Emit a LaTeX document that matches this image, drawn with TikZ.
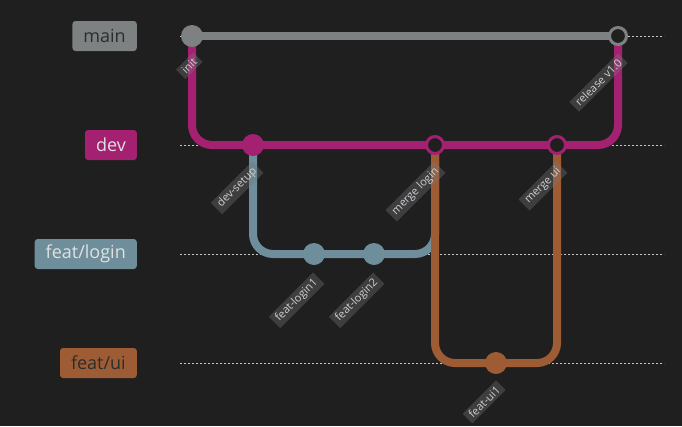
\documentclass[tikz,border=0pt]{standalone}
\usepackage{fontspec}
\setmainfont{Open Sans}
\definecolor{bgc}{RGB}{31,31,31}
\definecolor{mainc}{RGB}{125,129,129}
\definecolor{devc}{RGB}{164,33,114}
\definecolor{loginc}{RGB}{109,142,154}
\definecolor{uic}{RGB}{158,92,52}
\definecolor{lblc}{RGB}{120,120,120}
\definecolor{lbltxt}{RGB}{205,208,212}
\definecolor{lighttxt}{RGB}{225,225,225}
\definecolor{darktxt}{RGB}{45,45,45}
\pgfdeclarelayer{bg}
\pgfdeclarelayer{lanes}
\pgfsetlayers{bg,lanes,main}
\begin{document}
\begin{tikzpicture}[x=1pt,y=-1pt,
	lane/.style={line width=8pt},
	commit/.style={circle,inner sep=0pt,minimum size=22pt},
	mergec/.style={circle,inner sep=0pt,minimum size=17pt,line width=3pt,fill=bgc},
	branchlbl/.style={anchor=east,rounded corners=3pt,minimum height=30pt,inner xsep=11pt,font=\fontsize{18}{21}\selectfont},
	clabel/.style={anchor=east,rotate=45,fill=lblc,fill opacity=0.35,text opacity=1,text=lbltxt,inner xsep=4pt,inner ysep=2.5pt,font=\fontsize{11}{13}\selectfont},
	guide/.style={white!78!black,line width=1pt,dash pattern=on 2pt off 2pt}]
	\useasboundingbox (0,0) rectangle (682,426);
	
	% Branch names
	\node[branchlbl,fill=mainc,text=darktxt] (mainlbl) at (137,36) {main};
	\node[branchlbl,fill=devc,text=lighttxt] (devlbl) at (137,145) {dev};
	\node[branchlbl,fill=loginc,text=lighttxt] (loginlbl) at (137,254) {feat/login};
	\node[branchlbl,fill=uic,text=darktxt] (uilbl) at (137,363) {feat/ui};
	
	% Commits
	\node[commit,fill=mainc] (init) at (192,36) {};
	\node[mergec,draw=mainc] (release) at (618,36) {};
	\node[commit,fill=devc] (devsetup) at (253,145) {};
	\node[mergec,draw=devc] (mergelogin) at (435,145) {};
	\node[mergec,draw=devc] (mergeui) at (557,145) {};
	\node[commit,fill=loginc] (login1) at (314,254) {};
	\node[commit,fill=loginc] (login2) at (374,254) {};
	\node[commit,fill=uic] (ui1) at (496,363) {};
	
	\begin{pgfonlayer}{bg}
		\fill[bgc] (0,0) rectangle (682,426);
		\foreach \y in {36,145,254,363}
			\draw[guide] (180,\y) -- (664,\y);
	\end{pgfonlayer}
	
	% Lanes
	\begin{pgfonlayer}{lanes}
		\draw[lane,mainc] (init.center) -- (release.center);
		\draw[lane,devc,rounded corners=20pt] (init.center) |- (devsetup.center) -- (mergelogin.center) -- (mergeui.center) -| (release.center);
		\draw[lane,loginc,rounded corners=20pt] (devsetup.center) |- (login1.center) -- (login2.center) -| (mergelogin.center);
		\draw[lane,uic,rounded corners=20pt] (mergelogin.center) |- (ui1.center) -| (mergeui.center);
	\end{pgfonlayer}
	
	% Commit messages
	\node[clabel] (initmsg) at (198,57) {init};
	\node[clabel] (releasemsg) at (623,58) {release v1.0};
	\node[clabel] (devsetupmsg) at (258,167) {dev-setup};
	\node[clabel] (mergeloginmsg) at (440,167) {merge login};
	\node[clabel] (mergeuimsg) at (562,167) {merge ui};
	\node[clabel] (login1msg) at (319,278) {feat-login1};
	\node[clabel] (login2msg) at (379,278) {feat-login2};
	\node[clabel] (ui1msg) at (501,385) {feat-ui1};
\end{tikzpicture}
\end{document}
